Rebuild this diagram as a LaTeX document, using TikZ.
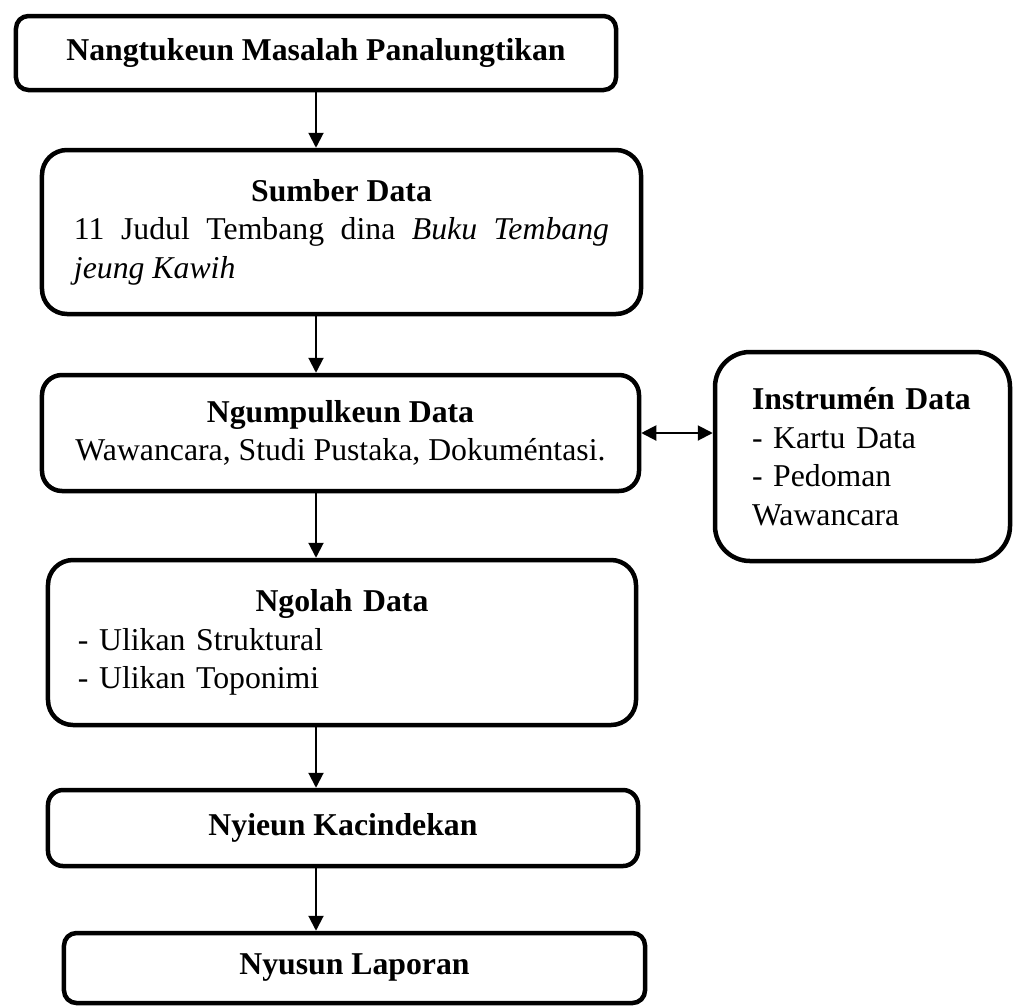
\documentclass[tikz,border=0pt]{standalone}
\usepackage{fontspec}
\setmainfont{Liberation Serif}
\usetikzlibrary{arrows.meta}
\begin{document}
\begin{tikzpicture}[x=0.4pt,y=-0.4pt,font=\fontsize{12.7}{15.4}\selectfont]
        \tikzstyle{stage}=[rectangle,rounded corners=5pt,line width=1.8pt,draw=black,fill=white,align=center,inner sep=0pt]
        \tikzstyle{edge}=[draw,line width=0.8pt,-{Triangle[length=6pt,width=6pt]}]
        \tikzstyle{twoway}=[draw,line width=0.8pt,{Triangle[length=6pt,width=6pt]}-{Triangle[length=6pt,width=6pt]}]
       \useasboundingbox (0,0) rectangle (1013,1007);
       \begin{scope}
         \node [stage,minimum width=240pt,minimum height=29.6pt] (masalah) at (316,53) {\textbf{Nangtukeun Masalah Panalungtikan}};
         \node [stage,rounded corners=10pt,minimum width=239.6pt,minimum height=65.6pt,text width=214pt,align=justify] (sumber) at (341.5,232) {\sloppy\hyphenpenalty=10000\makebox[\linewidth]{\textbf{Sumber Data}}\par 11 Judul Tembang dina \textit{Buku Tembang jeung Kawih}\par};
         \node [stage,rounded corners=8pt,minimum width=238.8pt,minimum height=46.4pt] (kumpul) at (340.5,433) {\textbf{Ngumpulkeun Data}\\Wawancara, Studi Pustaka, Dokuméntasi.};
         \node [stage,rounded corners=14pt,minimum width=118pt,minimum height=83.6pt,text width=88.4pt,align=left] (instrumen) at (862.5,456.5) {\textbf{Instrumén Data}\\- Kartu Data\\- Pedoman\\Wawancara};
         \node [stage,rounded corners=10pt,minimum width=235.2pt,minimum height=66pt,text width=211.2pt,align=left] (olah) at (342,642.5) {\makebox[\linewidth]{\textbf{Ngolah Data}}\\- Ulikan Struktural\\- Ulikan Toponimi};
         \node [stage,rounded corners=6pt,minimum width=236pt,minimum height=30.4pt] (cindek) at (343,828) {\textbf{Nyieun Kacindekan}};
         \node [stage,minimum width=232.4pt,minimum height=28pt] (lapor) at (354.5,968) {\textbf{Nyusun Laporan}};
         \path[edge] (masalah.south) -- (masalah.south |- sumber.north);
         \path[edge] (masalah.south |- sumber.south) -- (masalah.south |- kumpul.north);
         \path[edge] (masalah.south |- kumpul.south) -- (masalah.south |- olah.north);
         \path[edge] (masalah.south |- olah.south) -- (masalah.south |- cindek.north);
         \path[edge] (masalah.south |- cindek.south) -- (masalah.south |- lapor.north);
         \path[twoway] (kumpul.east) -- (kumpul.east -| instrumen.west);
        \end{scope}
      \end{tikzpicture}
\end{document}
